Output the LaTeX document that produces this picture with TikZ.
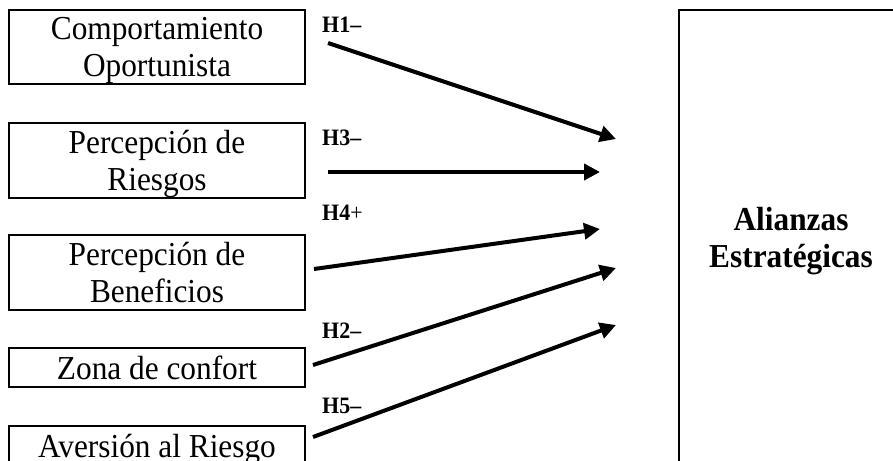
\documentclass[tikz,border=0pt]{standalone}
\usepackage{fontspec}
\setmainfont[FakeStretch=0.935]{Liberation Serif}
\usetikzlibrary{arrows.meta}
\begin{document}
\begin{tikzpicture}[x=1pt,y=-1pt,
  box/.style={draw,line width=1.8pt,inner sep=0pt,align=center,
    text height=23pt,text depth=0pt,
    font=\fontsize{33.5}{37}\selectfont},
  twoline/.style={text height=60pt},
  lbl/.style={anchor=base west,inner sep=0pt,font=\fontsize{23.5}{26}\selectfont},
  arr/.style={line width=4pt,-{Triangle[length=16pt,width=16pt]}}]
\useasboundingbox (0,0) rectangle (893,460);
\clip (0,0) rectangle (893,460);
\node[box,twoline,minimum width=296pt,minimum height=74pt] (b1) at (157,47) {Comportamiento\\Oportunista};
\node[box,twoline,minimum width=296pt,minimum height=75pt] (b2) at (157,160.5) {Percepción de\\Riesgos};
\node[box,twoline,minimum width=296pt,minimum height=75pt] (b3) at (157,272.5) {Percepción de\\Beneficios};
\node[box,minimum width=296pt,minimum height=39pt] (b4) at (157,367.5) {Zona de confort};
\node[box,minimum width=296pt,minimum height=39pt] (b5) at (157,445.5) {Aversión al Riesgo};
\node[box,twoline,minimum width=224pt,minimum height=454pt] (al) at (791,237) {\textbf{Alianzas}\\\textbf{Estratégicas}};
\node[lbl] (l1) at (322,33) {\textbf{H1–}};
\node[lbl] (l3) at (322,145) {\textbf{H3–}};
\node[lbl] (l4) at (322,220) {\textbf{H4}+};
\node[lbl] (l2) at (322,338) {\textbf{H2–}};
\node[lbl] (l5) at (322,413) {\textbf{H5–}};
\coordinate (s1) at (328,43);  \coordinate (e1) at (616,139);
\coordinate (s3) at (328,172); \coordinate (e3) at (600,172);
\coordinate (s4) at (314,269); \coordinate (e4) at (600,229);
\coordinate (s2) at (313,365); \coordinate (e2) at (616,268);
\coordinate (s5) at (313,437); \coordinate (e5) at (616,325);
\draw[arr] (s1) -- (e1);
\draw[arr] (s3) -- (e3);
\draw[arr] (s4) -- (e4);
\draw[arr] (s2) -- (e2);
\draw[arr] (s5) -- (e5);
\end{tikzpicture}
\end{document}
